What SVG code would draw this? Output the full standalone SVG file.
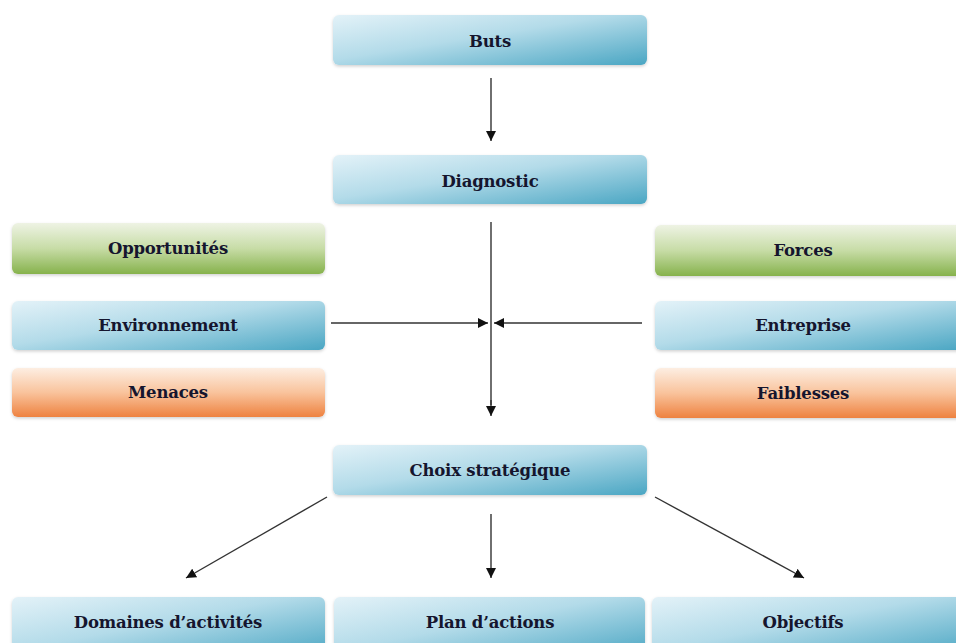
<svg xmlns="http://www.w3.org/2000/svg" width="956" height="643" viewBox="0 0 956 643">
  <defs>
    <linearGradient id="gBlue" x1="0" y1="0" x2="1" y2="1">
      <stop offset="0" stop-color="#e3f2f8"/>
      <stop offset="0.45" stop-color="#b3dbe9"/>
      <stop offset="1" stop-color="#4aa6c3"/>
    </linearGradient>
    <linearGradient id="gGreen" x1="0" y1="0" x2="0" y2="1">
      <stop offset="0" stop-color="#eef3e4"/>
      <stop offset="0.5" stop-color="#c7dca6"/>
      <stop offset="1" stop-color="#86b24c"/>
    </linearGradient>
    <linearGradient id="gOrange" x1="0" y1="0" x2="0" y2="1">
      <stop offset="0" stop-color="#fdeee2"/>
      <stop offset="0.5" stop-color="#f9c39c"/>
      <stop offset="1" stop-color="#ee8240"/>
    </linearGradient>
    <filter id="soft" x="-5%" y="-20%" width="110%" height="150%">
      <feDropShadow dx="0" dy="1.5" stdDeviation="1.5" flood-color="#000" flood-opacity="0.18"/>
    </filter>
    <marker id="arrow" viewBox="0 0 10 10" refX="10" refY="5" markerWidth="10" markerHeight="10" markerUnits="userSpaceOnUse" orient="auto">
      <path d="M0,0 L10,5 L0,10 Z" fill="#111"/>
    </marker>
  </defs>
  <style>
    .box { stroke: none; filter: url(#soft); }
    .blue { fill: url(#gBlue); }
    .green { fill: url(#gGreen); }
    .orange { fill: url(#gOrange); }
    .lbl { font-family: "DejaVu Serif", "Liberation Serif", serif; font-weight: bold; font-size: 16.5px; letter-spacing: -0.2px; fill: #15152e; text-anchor: middle; dominant-baseline: central; }
    .conn { stroke: #333; stroke-width: 1.4; fill: none; marker-end: url(#arrow); }
  </style>

  <rect width="956" height="643" fill="#ffffff"/>

  <g id="connectors">
    <line class="conn" x1="491" y1="78" x2="491" y2="141"/>
    <line x1="491" y1="222" x2="491" y2="405" stroke="#333" stroke-width="1.4"/>
    <line class="conn" x1="491" y1="400" x2="491" y2="416"/>
    <line class="conn" x1="331" y1="323" x2="488" y2="323"/>
    <line class="conn" x1="642" y1="323" x2="494" y2="323"/>
    <line class="conn" x1="327" y1="497" x2="186" y2="578"/>
    <line class="conn" x1="491" y1="514" x2="491" y2="578"/>
    <line class="conn" x1="655" y1="497" x2="804" y2="578"/>
  </g>

  <g id="buts">
    <rect class="box blue" x="333" y="15" width="314" height="50" rx="6"/>
    <text class="lbl" x="490" y="41">Buts</text>
  </g>
  <g id="diagnostic">
    <rect class="box blue" x="333" y="155" width="314" height="49" rx="6"/>
    <text class="lbl" x="490" y="181">Diagnostic</text>
  </g>

  <g id="opportunites">
    <rect class="box green" x="12" y="223" width="313" height="51" rx="6"/>
    <text class="lbl" x="168" y="248">Opportunités</text>
  </g>
  <g id="environnement">
    <rect class="box blue" x="12" y="301" width="313" height="49" rx="6"/>
    <text class="lbl" x="168" y="325">Environnement</text>
  </g>
  <g id="menaces">
    <rect class="box orange" x="12" y="368" width="313" height="49" rx="6"/>
    <text class="lbl" x="168" y="392">Menaces</text>
  </g>

  <g id="forces">
    <rect class="box green" x="655" y="225" width="310" height="51" rx="6"/>
    <text class="lbl" x="803" y="250">Forces</text>
  </g>
  <g id="entreprise">
    <rect class="box blue" x="655" y="301" width="310" height="49" rx="6"/>
    <text class="lbl" x="803" y="325">Entreprise</text>
  </g>
  <g id="faiblesses">
    <rect class="box orange" x="655" y="368" width="310" height="50" rx="6"/>
    <text class="lbl" x="803" y="393">Faiblesses</text>
  </g>

  <g id="choix">
    <rect class="box blue" x="333" y="445" width="314" height="50" rx="6"/>
    <text class="lbl" x="490" y="470">Choix stratégique</text>
  </g>

  <g id="domaines">
    <rect class="box blue" x="12" y="597" width="313" height="60" rx="6"/>
    <text class="lbl" x="168" y="622">Domaines d’activités</text>
  </g>
  <g id="plan">
    <rect class="box blue" x="334" y="597" width="311" height="60" rx="6"/>
    <text class="lbl" x="490" y="622">Plan d’actions</text>
  </g>
  <g id="objectifs">
    <rect class="box blue" x="652" y="597" width="313" height="60" rx="6"/>
    <text class="lbl" x="803" y="622">Objectifs</text>
  </g>
</svg>
